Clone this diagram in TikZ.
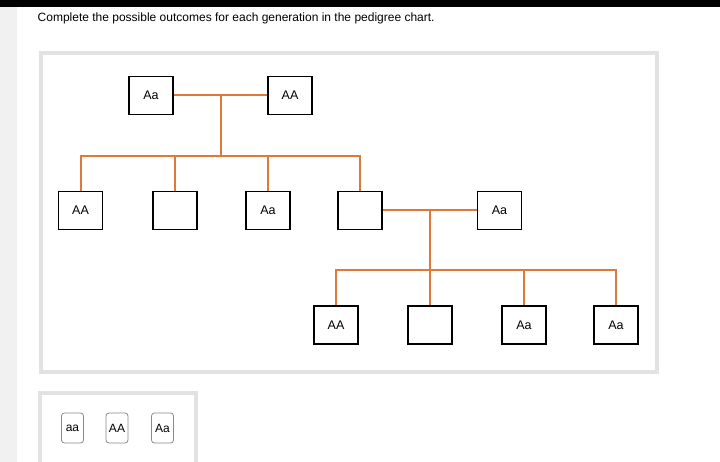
\documentclass[tikz,border=0pt]{standalone}
\usepackage{fontspec}
\setmainfont{Liberation Sans}
\usepackage{xcolor}
\usepackage{tikz}
\definecolor{lineorange}{HTML}{E0783A}
\definecolor{panelgrey}{HTML}{E2E2E2}
\definecolor{stripgrey}{HTML}{F1F1F1}
\definecolor{chipgrey}{HTML}{8A8A8A}
\tikzset{
  person/.style={draw=black,line width=1.5pt,minimum width=44pt,minimum height=38pt,inner sep=0pt,font=\fontsize{12.5}{14}\selectfont},
  chip/.style={draw=chipgrey,line width=0.8pt,rounded corners=3pt,minimum width=22pt,minimum height=30pt,inner sep=0pt,font=\fontsize{12}{14}\selectfont},
  link/.style={draw=lineorange,line width=2pt}
}

\begin{document}
\begin{tikzpicture}[x=1pt,y=1pt,yscale=-1,xscale=1]
        \useasboundingbox (0,0) rectangle (720,462);
        % page background
        \fill[white] (0,0) rectangle (720,462);
        \fill[black] (0,0) rectangle (720,7);
        \fill[stripgrey] (0,7) rectangle (17,462);
        \draw (37.5,18.5) node [anchor=west][inner sep=0pt] {\fontsize{12}{14}\selectfont Complete the possible outcomes for each generation in the pedigree chart.};
        % panels
        \draw[panelgrey,line width=4pt] (41,53) rectangle (656.5,371.5);
        \draw[panelgrey,line width=4pt] (40,470) |- (196,393) -- (196,470);

        % first generation
        \node[person] (p1) at (151,95.5) {Aa};
        \node[person] (p2) at (290,95.5) {AA};
        % second generation
        \node[person] (c1) at (80.5,210.5) {AA};
        \node[person] (c2) at (175,210.5) {};
        \node[person] (c3) at (268,210.5) {Aa};
        \node[person] (c4) at (360,210.5) {};
        \node[person] (s1) at (499.5,210.5) {Aa};
        % third generation
        \node[person] (g1) at (336,325) {AA};
        \node[person] (g2) at (430,325) {};
        \node[person] (g3) at (524,325) {Aa};
        \node[person] (g4) at (616,325) {Aa};

        \coordinate (m1) at (221,95.5);
        \coordinate (h1) at (221,156);
        \coordinate (m2) at (430,210.5);
        \coordinate (h2) at (430,270);

        % connectors
        \draw[link] (p1.east) -- (p2.west);
        \draw[link] (m1) -- (h1);
        \draw[link] (c1.north) |- (h1) -| (c4.north);
        \draw[link] (c2.north) -- (c2.north |- h1);
        \draw[link] (c3.north) -- (c3.north |- h1);
        \draw[link] (c4.east) -- (s1.west);
        \draw[link] (m2) -- (h2);
        \draw[link] (g1.north) |- (h2) -| (g4.north);
        \draw[link] (g2.north) -- (g2.north |- h2);
        \draw[link] (g3.north) -- (g3.north |- h2);

        % answer chips
        \node[chip] (k1) at (72.5,428) {aa};
        \node[chip] (k2) at (117,428) {AA};
        \node[chip] (k3) at (162.5,428) {Aa};
\end{tikzpicture}
\end{document}
